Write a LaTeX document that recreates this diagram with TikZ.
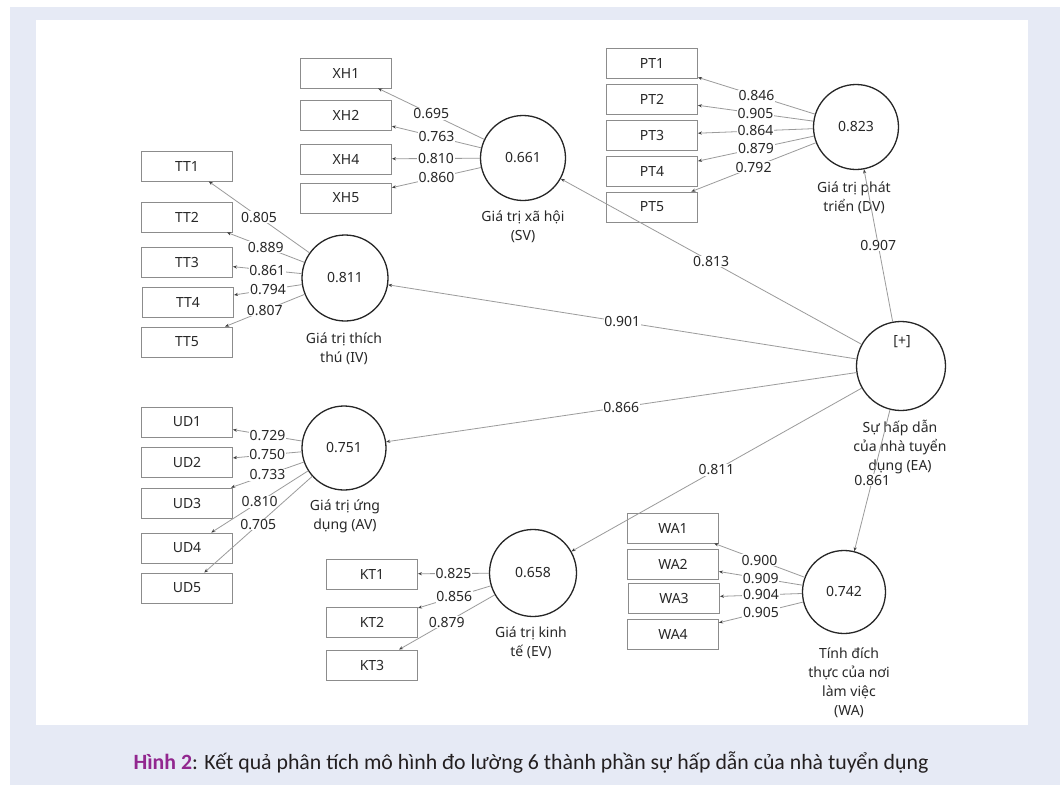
\documentclass[tikz,border=0pt]{standalone}
\usepackage{fontspec}
\setmainfont{Noto Sans}
\newfontfamily\capfont{Carlito}
\usetikzlibrary{arrows.meta}
\definecolor{bglav}{RGB}{230,234,245}
\definecolor{txt}{RGB}{40,40,40}
\definecolor{lgray}{RGB}{155,155,155}
\definecolor{bgray}{RGB}{140,140,140}
\definecolor{capurple}{RGB}{146,39,143}
\definecolor{captxt}{RGB}{35,31,32}
\begin{document}
\begin{tikzpicture}[x=1pt,y=-1pt,
  every node/.style={text=txt, font=\fontsize{14}{19}\selectfont},
  lv/.style={circle, draw=black!85, line width=1.3pt, inner sep=0pt},
  lvlab/.style={align=center, inner sep=0pt},
  ind/.style={rectangle, draw=bgray, line width=0.9pt, minimum width=91pt, minimum height=30pt, inner sep=0pt},
  link/.style={draw=lgray, line width=0.8pt, -{Stealth[length=4pt,width=3.2pt,color=black!75]}},
  lbl/.style={fill=white, inner sep=0.8pt}
]
\useasboundingbox (0,0) rectangle (1060,785);
\fill[bglav] (10,7) rectangle (1060,785);
\fill[white] (36,20) rectangle (1028,725);

% latent variables
\node[lv, minimum size=85pt] (SV) at (523,158) {0.661};
\node[lv, minimum size=85pt] (DV) at (856,127) {0.823};
\node[lv, minimum size=86pt] (IV) at (345,278) {0.811};
\node[lv, minimum size=84pt] (AV) at (344,448) {0.751};
\node[lv, minimum size=87pt] (EV) at (533,573) {0.658};
\node[lv, minimum size=83pt] (WA) at (844,592) {0.742};
\node[lv, minimum size=89pt] (EA) at (901,366) {};
\node (EAplus) at (902,342) {[+]};

\node[lvlab] (SVl) at (523,227) {Giá trị xã hội\\(SV)};
\node[lvlab] (DVl) at (854,198) {Giá trị phát\\triển (DV)};
\node[lvlab] (IVl) at (344,349) {Giá trị thích\\thú (IV)};
\node[lvlab] (AVl) at (345,516) {Giá trị ứng\\dụng (AV)};
\node[lvlab] (EVl) at (531,643) {Giá trị kinh\\tế (EV)};
\node[lvlab] (EAl) at (900,447) {Sự hấp dẫn\\của nhà tuyển\\dụng (EA)};
\node[lvlab] (WAl) at (849,683) {Tính đích\\thực của nơi\\làm việc\\(WA)};

% indicators
\node[ind] (XH1) at (346,73) {XH1};
\node[ind] (XH2) at (346,115) {XH2};
\node[ind] (XH4) at (346,159) {XH4};
\node[ind] (XH5) at (346,198) {XH5};

\node[ind] (PT1) at (652,63) {PT1};
\node[ind] (PT2) at (652,99) {PT2};
\node[ind] (PT3) at (652,135) {PT3};
\node[ind] (PT4) at (652,171) {PT4};
\node[ind] (PT5) at (652,207) {PT5};

\node[ind] (TT1) at (187,166) {TT1};
\node[ind] (TT2) at (187,217) {TT2};
\node[ind] (TT3) at (187,262) {TT3};
\node[ind] (TT4) at (188,302) {TT4};
\node[ind] (TT5) at (187,342) {TT5};

\node[ind] (UD1) at (187,422) {UD1};
\node[ind] (UD2) at (187,462) {UD2};
\node[ind] (UD3) at (187,503) {UD3};
\node[ind] (UD4) at (187,548) {UD4};
\node[ind] (UD5) at (187,588) {UD5};

\node[ind] (KT1) at (372,574) {KT1};
\node[ind] (KT2) at (372,622) {KT2};
\node[ind] (KT3) at (372,665) {KT3};

\node[ind] (WA1) at (673,528) {WA1};
\node[ind] (WA2) at (673,564) {WA2};
\node[ind] (WA3) at (674,598) {WA3};
\node[ind] (WA4) at (673,634) {WA4};

% structural paths
\draw[link] (EA) -- node[lbl]{0.813} (SV);
\draw[link] (EA) -- node[lbl]{0.907} (DV);
\draw[link] (EA) -- node[lbl]{0.901} (IV);
\draw[link] (EA) -- node[lbl]{0.866} (AV);
\draw[link] (EA) -- node[lbl]{0.811} (EV);
\draw[link] (EA) -- node[lbl]{0.861} (WA);

% outer loadings
\draw[link] (SV) -- node[lbl]{0.695} (XH1);
\draw[link] (SV) -- node[lbl]{0.763} (XH2);
\draw[link] (SV) -- node[lbl]{0.810} (XH4);
\draw[link] (SV) -- node[lbl]{0.860} (XH5);

\draw[link] (DV) -- node[lbl]{0.846} (PT1);
\draw[link] (DV) -- node[lbl]{0.905} (PT2);
\draw[link] (DV) -- node[lbl]{0.864} (PT3);
\draw[link] (DV) -- node[lbl]{0.879} (PT4);
\draw[link] (DV) -- node[lbl]{0.792} (PT5);

\draw[link] (IV) -- node[lbl]{0.805} (TT1);
\draw[link] (IV) -- node[lbl]{0.889} (TT2);
\draw[link] (IV) -- node[lbl]{0.861} (TT3);
\draw[link] (IV) -- node[lbl]{0.794} (TT4);
\draw[link] (IV) -- node[lbl]{0.807} (TT5);

\draw[link] (AV) -- node[lbl]{0.729} (UD1);
\draw[link] (AV) -- node[lbl]{0.750} (UD2);
\draw[link] (AV) -- node[lbl]{0.733} (UD3);
\draw[link] (AV) -- node[lbl]{0.810} (UD4);
\draw[link] (AV) -- node[lbl]{0.705} (UD5);

\draw[link] (EV) -- node[lbl]{0.825} (KT1);
\draw[link] (EV) -- node[lbl]{0.856} (KT2);
\draw[link] (EV) -- node[lbl]{0.879} (KT3);

\draw[link] (WA) -- node[lbl]{0.900} (WA1);
\draw[link] (WA) -- node[lbl]{0.909} (WA2);
\draw[link] (WA) -- node[lbl]{0.904} (WA3);
\draw[link] (WA) -- node[lbl]{0.905} (WA4);

% caption
\node[text=captxt, font=\capfont\fontsize{21.8}{26}\selectfont] (cap) at (531,762)
  {{\color{capurple}\bfseries Hình 2}: Kết quả phân tích mô hình đo lường 6 thành phần sự hấp dẫn của nhà tuyển dụng};
\end{tikzpicture}
\end{document}
